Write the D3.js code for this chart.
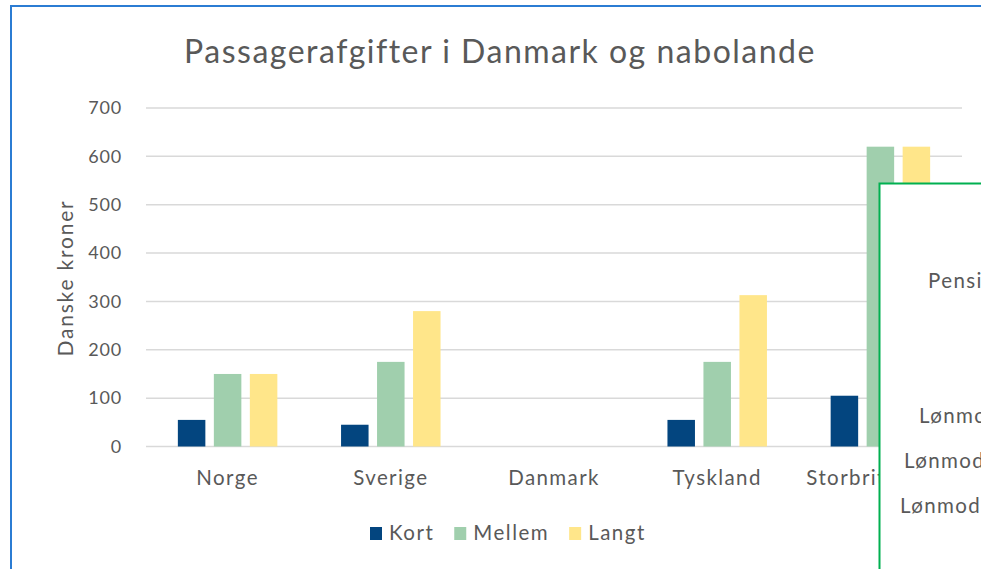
<!DOCTYPE html>
<html>
<head>
<meta charset="utf-8">
<script src="https://cdn.jsdelivr.net/npm/d3@7"></script>
<style>
  body { margin: 0; background: #fff; }
  svg { display: block; font-family: Lato, "Open Sans", sans-serif; }
</style>
</head>
<body>
<div id="chart"></div>
<script>
// Data
var categories = ["Norge", "Sverige", "Danmark", "Tyskland", "Storbritannien"];
var seriesNames = ["Kort", "Mellem", "Langt"];
var kort = [55, 45, 0, 55, 105];
var mellem = [150, 175, 0, 175, 620];
var langt = [150, 280, 0, 313, 620];
var yTicks = [0, 100, 200, 300, 400, 500, 600, 700];
// labels of the other chart lying on top (cut by the window edge)
var otherLabels = ["Pensionister", "Lønmodtagere, lav", "Lønmodtagere, mellem", "Lønmodtagere, høj"];

var colors = { Kort: "#03457f", Mellem: "#a0cfad", Langt: "#ffe68a" };
var textColor = "#595959";

var cfg = {
  width: 981,
  height: 569,
  plotLeft: 146,
  plotRight: 962,
  plotTop: 108,
  plotBottom: 446.5
};

var seriesValues = { Kort: kort, Mellem: mellem, Langt: langt };
var rows = categories.map(function(c, i) {
  return { cat: c, vals: seriesNames.map(function(s) { return { key: s, v: seriesValues[s][i] }; }) };
});

var svg = d3.select("#chart").append("svg")
  .attr("width", cfg.width)
  .attr("height", cfg.height);

svg.append("rect").attr("width", cfg.width).attr("height", cfg.height).attr("fill", "#fff");

// blue frame of the chart object
svg.append("rect")
  .attr("x", 11).attr("y", 6)
  .attr("width", 1100).attr("height", 700)
  .attr("fill", "none")
  .attr("stroke", "#2b7cd3")
  .attr("stroke-width", 2);

var x0 = d3.scaleBand().domain(categories).range([cfg.plotLeft, cfg.plotRight]).padding(0);
var x1 = d3.scaleBand().domain(seriesNames).range([0, x0.bandwidth()])
  .paddingInner(0.236).paddingOuter(0.885);
var y = d3.scaleLinear().domain([0, 700]).range([cfg.plotBottom, cfg.plotTop]);

// title
svg.append("text")
  .attr("x", 500).attr("y", 63)
  .attr("text-anchor", "middle")
  .attr("font-size", 32)
  .attr("letter-spacing", 1.5)
  .attr("fill", textColor)
  .text("Passagerafgifter i Danmark og nabolande");

// gridlines
svg.append("g").selectAll("line")
  .data(yTicks)
  .enter().append("line")
  .attr("x1", cfg.plotLeft).attr("x2", cfg.plotRight)
  .attr("y1", function(d) { return y(d); })
  .attr("y2", function(d) { return y(d); })
  .attr("stroke", "#d9d9d9")
  .attr("stroke-width", 1.5);

// y axis tick labels
var yAxis = d3.axisLeft(y).tickValues(yTicks).tickSize(0).tickPadding(0);
var gy = svg.append("g")
  .attr("transform", "translate(122,0)")
  .call(yAxis);
gy.select(".domain").remove();
gy.selectAll("text")
  .attr("font-family", "Lato, sans-serif")
  .attr("font-size", 18)
  .attr("letter-spacing", 0.8)
  .attr("fill", textColor);

// y axis title
svg.append("text")
  .attr("transform", "translate(73,278) rotate(-90)")
  .attr("text-anchor", "middle")
  .attr("font-size", 21)
  .attr("letter-spacing", 1.8)
  .attr("fill", textColor)
  .text("Danske kroner");

// bars
var groups = svg.append("g").selectAll("g")
  .data(rows)
  .enter().append("g")
  .attr("transform", function(d) { return "translate(" + x0(d.cat) + ",0)"; });

groups.selectAll("rect")
  .data(function(d) { return d.vals; })
  .enter().append("rect")
  .attr("x", function(d) { return x1(d.key); })
  .attr("y", function(d) { return y(d.v); })
  .attr("width", x1.bandwidth())
  .attr("height", function(d) { return y(0) - y(d.v); })
  .attr("fill", function(d) { return colors[d.key]; });

// category labels
var xAxis = d3.axisBottom(x0).tickSize(0).tickPadding(0);
var gx = svg.append("g")
  .attr("transform", "translate(0,470)")
  .call(xAxis);
gx.select(".domain").remove();
gx.selectAll("text")
  .attr("font-family", "Lato, sans-serif")
  .attr("font-size", 20.5)
  .attr("letter-spacing", 1.4)
  .attr("fill", textColor);

// legend
var legend = svg.append("g");
var lx = 370;
seriesNames.forEach(function(s) {
  legend.append("rect")
    .attr("x", lx).attr("y", 527)
    .attr("width", 12).attr("height", 13)
    .attr("fill", colors[s]);
  var t = legend.append("text")
    .attr("x", lx + 19).attr("y", 540)
    .attr("font-size", 20.5)
    .attr("letter-spacing", 1.5)
    .attr("fill", textColor)
    .text(s);
  lx += 19 + t.node().getComputedTextLength() + 20;
});

// overlapping box from another chart (green frame)
var box = svg.append("g");
box.append("rect")
  .attr("x", 879.5).attr("y", 183.5)
  .attr("width", 400).attr("height", 500)
  .attr("fill", "#fff")
  .attr("stroke", "#00b050")
  .attr("stroke-width", 2);
var otherPos = [[928, 288], [919, 423], [904, 468], [900, 513]];
box.selectAll("text")
  .data(otherLabels)
  .enter().append("text")
  .attr("x", function(d, i) { return otherPos[i][0]; })
  .attr("y", function(d, i) { return otherPos[i][1]; })
  .attr("font-size", 20.5)
  .attr("letter-spacing", 1.4)
  .attr("fill", textColor)
  .text(function(d) { return d; });
</script>
</body>
</html>
